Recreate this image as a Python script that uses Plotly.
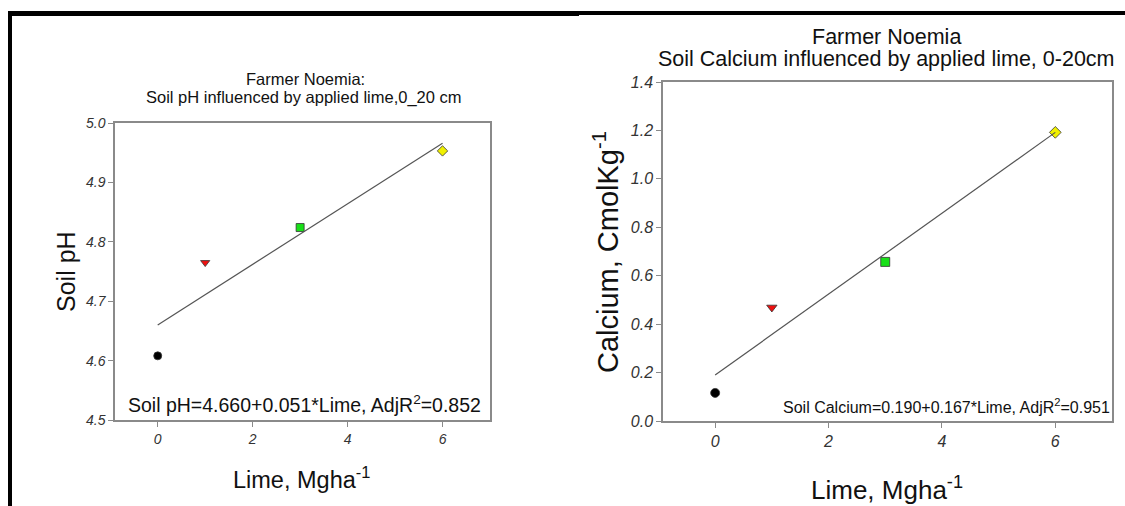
import plotly.graph_objects as go

# ---- data ----
lime_rates = [0, 1, 3, 6]
soil_ph = [4.608, 4.765, 4.824, 4.953]
soil_ca = [0.116, 0.469, 0.657, 1.192]
marker_symbols = ["circle", "triangle-down", "square", "diamond"]
marker_colors = ["#000000", "#ee1010", "#18e018", "#f0f000"]

ph_fit = {"intercept": 4.660, "slope": 0.051}
ca_fit = {"intercept": 0.190, "slope": 0.167}
fit_x = [0, 6]

x_ticks = [0, 2, 4, 6]
ph_ticks = [4.5, 4.6, 4.7, 4.8, 4.9, 5.0]
ca_ticks = [0.0, 0.2, 0.4, 0.6, 0.8, 1.0, 1.2, 1.4]

W, H = 1125, 506
FONT = "Arial, Liberation Sans, sans-serif"


def px(x):
    return x / W


def py(y):
    return 1 - y / H


fig = go.Figure()

# left panel
for i in range(len(lime_rates)):
    fig.add_trace(go.Scatter(
        x=[lime_rates[i]], y=[soil_ph[i]], mode="markers",
        marker=dict(symbol=marker_symbols[i], color=marker_colors[i], size=8,
                    line=dict(color="#333333", width=0.8)),
        xaxis="x", yaxis="y", showlegend=False))
fig.add_trace(go.Scatter(
    x=fit_x, y=[ph_fit["intercept"] + ph_fit["slope"] * v for v in fit_x],
    mode="lines", line=dict(color="#555555", width=1.2),
    xaxis="x", yaxis="y", showlegend=False))

# right panel
for i in range(len(lime_rates)):
    fig.add_trace(go.Scatter(
        x=[lime_rates[i]], y=[soil_ca[i]], mode="markers",
        marker=dict(symbol=marker_symbols[i], color=marker_colors[i], size=9,
                    line=dict(color="#333333", width=0.8)),
        xaxis="x2", yaxis="y2", showlegend=False))
fig.add_trace(go.Scatter(
    x=fit_x, y=[ca_fit["intercept"] + ca_fit["slope"] * v for v in fit_x],
    mode="lines", line=dict(color="#555555", width=1.2),
    xaxis="x2", yaxis="y2", showlegend=False))

axis_common = dict(showgrid=False, zeroline=False, showline=True, linecolor="#8a8a8a",
                   linewidth=1.5, mirror=True, ticks="outside", ticklen=5,
                   tickcolor="#8a8a8a", tickwidth=1, automargin=False)

fig.update_layout(
    width=W, height=H, margin=dict(l=0, r=0, t=0, b=0, pad=0, autoexpand=False),
    autosize=False,
    paper_bgcolor="white", plot_bgcolor="white",
    font=dict(family=FONT, color="#111111"),
    xaxis=dict(domain=[px(115), px(490)], range=[-0.9, 7], tickvals=x_ticks,
               tickfont=dict(size=14, style="italic", color="#333333"), anchor="y",
               **axis_common),
    yaxis=dict(domain=[py(420), py(123)], range=[4.5, 5.0], tickvals=ph_ticks,
               tickformat=".1f", tickfont=dict(size=14, style="italic", color="#333333"),
               anchor="x", **axis_common),
    xaxis2=dict(domain=[px(663), px(1112)], range=[-0.92, 7], tickvals=x_ticks,
                tickfont=dict(size=16, style="italic", color="#333333"), anchor="y2",
                **axis_common),
    yaxis2=dict(domain=[py(421), py(82)], range=[0, 1.4], tickvals=ca_ticks,
                tickformat=".1f", tickfont=dict(size=16, style="italic", color="#333333"),
                anchor="x2", **axis_common),
)

ann = [
    # left panel texts
    dict(text="Farmer Noemia:", x=px(305), y=py(79), size=16.5),
    dict(text="Soil pH influenced by applied lime,0_20 cm", x=px(304), y=py(97), size=16.5),
    dict(text="Lime, Mgha<sup>-1</sup>", x=px(301), y=py(478), size=23.5),
    dict(text="Soil pH", x=px(66), y=py(272), size=25, angle=-90),
    dict(text="Soil pH=4.660+0.051*Lime, AdjR<sup>2</sup>=0.852", x=px(304), y=py(404), size=19.5),
    # right panel texts
    dict(text="Farmer Noemia", x=px(886), y=py(37), size=21.5),
    dict(text="Soil Calcium influenced by applied lime, 0-20cm", x=px(886), y=py(59), size=21.5),
    dict(text="Lime, Mgha<sup>-1</sup>", x=px(887), y=py(488), size=26),
    dict(text="Calcium, CmolKg<sup>-1</sup>", x=px(606), y=py(252), size=29, angle=-90),
    dict(text="Soil Calcium=0.190+0.167*Lime, AdjR<sup>2</sup>=0.951", x=px(946), y=py(406), size=16),
]
for a in ann:
    fig.add_annotation(text=a["text"], x=a["x"], y=a["y"], xref="paper", yref="paper",
                       xanchor="center", yanchor="middle", showarrow=False,
                       textangle=a.get("angle", 0),
                       font=dict(family=FONT, size=a["size"], color="#111111"))

# outer black frame lines
fig.add_shape(type="line", xref="paper", yref="paper", x0=px(8), x1=px(579), y0=py(13.5), y1=py(13.5),
              line=dict(color="black", width=5))
fig.add_shape(type="line", xref="paper", yref="paper", x0=px(579), x1=px(1125), y0=py(13), y1=py(13),
              line=dict(color="black", width=4))
fig.add_shape(type="line", xref="paper", yref="paper", x0=px(10), x1=px(10), y0=py(11), y1=0,
              line=dict(color="black", width=4))

fig.write_html("out.html", config={"displayModeBar": False},
               post_script="document.body.style.margin='0';document.body.style.overflow='hidden';")
